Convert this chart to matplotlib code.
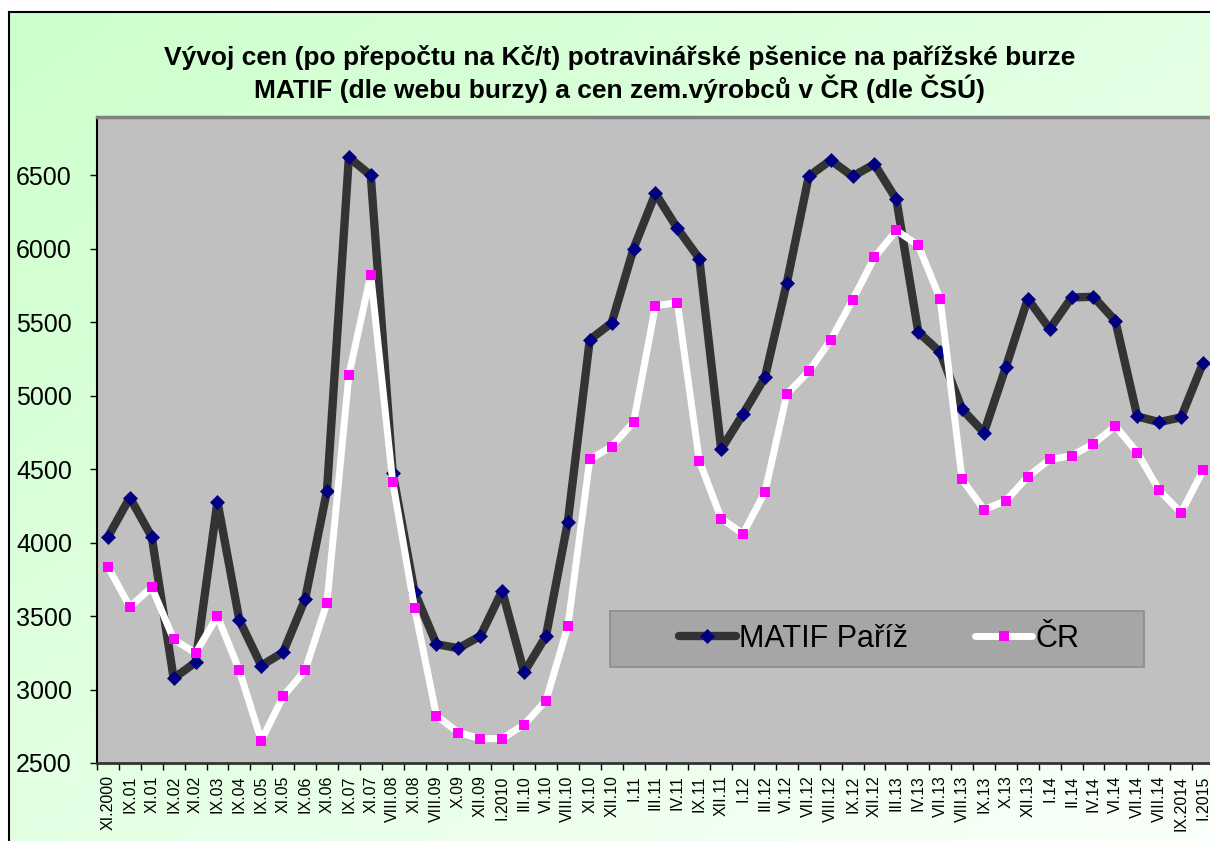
import matplotlib.pyplot as plt
import numpy as np
from matplotlib.patches import Rectangle

plt.rcParams['font.family'] = ['Liberation Sans', 'DejaVu Sans']

# obdobi (x-axis categories)
obdobi = ['XI.2000', 'IX.01', 'XI.01', 'IX.02', 'XI.02', 'IX.03', 'IX.04', 'IX.05',
          'XI.05', 'IX.06', 'XI.06', 'IX.07', 'XI.07', 'VIII.08', 'XI.08', 'VIII.09',
          'X.09', 'XII.09', 'I.2010', 'III.10', 'VI.10', 'VIII.10', 'XI.10', 'XII.10',
          'I.11', 'III.11', 'IV.11', 'IX.11', 'XII.11', 'I.12', 'III.12', 'VI.12',
          'VII.12', 'VIII.12', 'IX.12', 'XII.12', 'III.13', 'IV.13', 'VII.13', 'VIII.13',
          'IX.13', 'X.13', 'XII.13', 'I.14', 'II.14', 'IV.14', 'VI.14', 'VII.14',
          'VIII.14', 'IX.2014', 'I.2015']

# Kc/t
matif = [4038, 4306, 4038, 3076, 3185, 4278, 3472, 3163, 3253, 3614, 4352, 6620,
         6498, 4475, 3663, 3308, 3281, 3363, 3671, 3117, 3363, 4142, 5380, 5494,
         6000, 6375, 6137, 5932, 4634, 4874, 5125, 5768, 6492, 6601, 6492, 6574,
         6334, 5432, 5295, 4907, 4748, 5194, 5658, 5453, 5667, 5672, 5508, 4858,
         4819, 4852, 5221]
cr = [3835, 3562, 3696, 3341, 3248, 3499, 3130, 2652, 2953, 3130, 3590, 5139,
      5822, 4415, 3554, 2822, 2707, 2666, 2666, 2761, 2925, 3431, 4565, 4653,
      4819, 5612, 5631, 4557, 4163, 4060, 4344, 5011, 5164, 5377, 5650, 5940,
      6123, 6022, 5658, 4429, 4224, 4284, 4448, 4565, 4590, 4672, 4792, 4612,
      4355, 4202, 4491]

W, H = 1210, 841
fig = plt.figure(figsize=(W / 100, H / 100), dpi=100)

# chart area background (light green gradient)
bg = fig.add_axes([9 / W, 0, 1 - 9 / W, 1 - 12 / H], zorder=0)
yy, xx = np.mgrid[0:1:200j, 0:1:300j]
t = (xx + yy) / 2
c0 = np.array([0xcc, 0xff, 0xcc]) / 255
c1 = np.array([0xfa, 0xff, 0xfa]) / 255
bg.imshow(c0 + (c1 - c0) * t[..., None], extent=[0, 1, 0, 1], aspect='auto', origin='upper')
bg.set_xticks([])
bg.set_yticks([])
bg.spines['left'].set_linewidth(1.5)
bg.spines['top'].set_linewidth(1.5)
bg.spines['right'].set_visible(False)
bg.spines['bottom'].set_visible(False)

fig.text(620 / W, 1 - 57 / H,
         'Vývoj cen (po přepočtu na Kč/t) potravinářské pšenice na pařížské burze',
         ha='center', va='center', fontsize=19, fontweight='bold')
fig.text(620 / W, 1 - 89 / H,
         'MATIF (dle webu burzy) a cen zem.výrobců v ČR (dle ČSÚ)',
         ha='center', va='center', fontsize=19, fontweight='bold')

ax = fig.add_axes([97 / W, 1 - 763 / H, 1 - 97 / W, (763 - 117) / H], zorder=1)
ax.set_facecolor('#c0c0c0')
x = np.arange(len(obdobi))
ax.plot(x, matif, color='#333333', lw=6, marker='D', ms=7, mfc='#000080', mec='#000080',
        mew=0.5, solid_joinstyle='round', solid_capstyle='round', label='MATIF Paříž')
ax.plot(x, cr, color='white', lw=5, marker='s', ms=6.5, mfc='#ff00ff', mec='#ff00ff',
        mew=0, solid_joinstyle='round', solid_capstyle='round', label='ČR')

ax.set_xlim(-0.5, 50.32)
ax.set_ylim(2500, 6895)
ax.set_yticks(range(2500, 7000, 500))
ax.tick_params(axis='y', labelsize=18, length=5, width=1, pad=13)
ax.set_xticks(x)
ax.set_xticklabels(obdobi, rotation=90, fontsize=11.5)
ax.set_xticks(np.arange(-0.5, 50.5, 1), minor=True)
ax.tick_params(axis='x', which='major', length=0, pad=9)
ax.tick_params(axis='x', which='minor', length=5, width=1)
ax.spines['left'].set_linewidth(1.5)
ax.spines['bottom'].set_color('#333333')
ax.spines['bottom'].set_linewidth(2)
ax.spines['top'].set_color('#808080')
ax.spines['top'].set_linewidth(2.5)
ax.spines['right'].set_visible(False)

# legend box
ax.add_patch(Rectangle((610 / W, 1 - 667 / H), 534 / W, 56 / H, transform=fig.transFigure,
                       fc='#a6a6a6', ec='#8c8c8c', lw=1.2, zorder=5))
leg = ax.legend(loc='center', bbox_to_anchor=(879 / W, 1 - 639 / H),
                bbox_transform=fig.transFigure, ncol=2, frameon=False, fontsize=22,
                handlelength=1.87, handletextpad=0.1, columnspacing=2.2, numpoints=1)
leg.set_zorder(6)

fig.savefig('out.png', dpi=100)
